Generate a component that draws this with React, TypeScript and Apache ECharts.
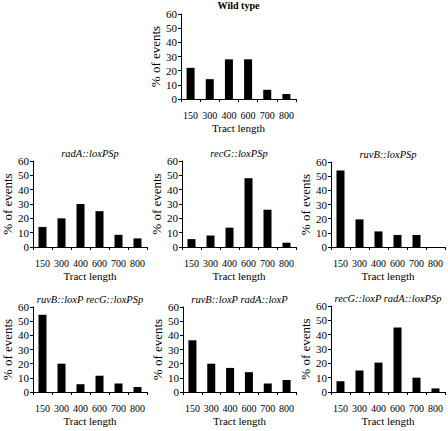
import React, { useEffect, useRef } from "react";
import * as echarts from "echarts";

const categories = ["150", "300", "400", "600", "700", "800"];
const yTicks = [0, 10, 20, 30, 40, 50, 60];

const titles = [
  "Wild type",
  "radA::loxPSp",
  "recG::loxPSp",
  "ruvB::loxPSp",
  "ruvB::loxP recG::loxPSp",
  "ruvB::loxP radA::loxP",
  "recG::loxP radA::loxPSp",
];

const wildType = [22, 14, 28, 28, 6.5, 3.5];
const radA = [14, 20, 30, 25, 8.5, 6];
const recG = [5.5, 8, 13.5, 48, 26, 3];
const ruvB = [54, 19.5, 11, 8.5, 8.5, 0];
const ruvBrecG = [54.5, 20, 5.5, 11.5, 6, 3.5];
const ruvBradA = [36.5, 20, 17, 14, 6, 8.5];
const recGradA = [7.5, 15, 20.5, 45, 10, 2.5];

const seriesValues = [wildType, radA, recG, ruvB, ruvBrecG, ruvBradA, recGradA];

// layout: [left, top, width, height]
const grids = [
  [181, 14, 115, 85],
  [33, 161, 114, 86],
  [182, 161, 114, 86],
  [331, 162, 114, 85],
  [33, 307, 114, 85],
  [183, 307, 113, 85],
  [331, 306, 114, 86],
];

const serif = "Liberation Serif";

export default function App() {
  const ref = useRef<HTMLDivElement>(null);
  useEffect(() => {
    if (!ref.current) return;
    const chart = echarts.init(ref.current, null, { renderer: "svg" });
    const option: any = {
      animation: false,
      backgroundColor: "#ffffff",
      textStyle: { fontFamily: serif },
      grid: grids.map((g) => ({ left: g[0], top: g[1], width: g[2], height: g[3] })),
      xAxis: grids.map((g, i) => ({
        type: "category",
        gridIndex: i,
        data: categories,
        name: "Tract length",
        nameLocation: "middle",
        nameGap: 23,
        nameTextStyle: { fontFamily: serif, fontSize: 11, color: "#000" },
        axisLine: { lineStyle: { color: "#000", width: 1 } },
        axisTick: { show: true, length: 3, alignWithLabel: false, lineStyle: { color: "#000" } },
        axisLabel: { fontFamily: serif, fontSize: 10, color: "#000", margin: 11, interval: 0 },
        splitLine: { show: false },
      })),
      yAxis: grids.map((g, i) => ({
        type: "value",
        gridIndex: i,
        min: 0,
        max: 60,
        interval: 10,
        name: "% of events",
        nameLocation: "middle",
        nameRotate: 90,
        nameGap: 17,
        nameTextStyle: { fontFamily: serif, fontSize: 13, color: "#000" },
        axisLine: { show: true, lineStyle: { color: "#000", width: 1 } },
        axisTick: { show: true, length: 3, lineStyle: { color: "#000" } },
        axisLabel: {
          fontFamily: serif,
          fontSize: 11,
          color: "#000",
          margin: 4,
          formatter: (v: number) => (yTicks.includes(v) ? String(v) : ""),
        },
        splitLine: { show: false },
      })),
      series: seriesValues.map((vals, i) => ({
        type: "bar",
        xAxisIndex: i,
        yAxisIndex: i,
        data: vals,
        barWidth: 8,
        itemStyle: { color: "#000" },
      })),
      graphic: titles.map((t, i) => {
        const g = grids[i];
        return {
          type: "text",
          x: g[0] + g[2] / 2,
          y: i === 0 ? 0 : g[1] - 13,
          style: {
            text: t,
            fontFamily: serif,
            fontSize: i === 0 ? 10 : 10.5,
            fontWeight: i === 0 ? "bold" : "normal",
            fontStyle: i === 0 ? "normal" : "italic",
            fill: "#000",
            textAlign: "center",
            textVerticalAlign: "top",
          },
        };
      }),
    };
    chart.setOption(option);
    return () => chart.dispose();
  }, []);
  return (
    <div
      ref={ref}
      style={{ position: "fixed", left: 0, top: 0, width: 448, height: 431, background: "#fff" }}
    />
  );
}
